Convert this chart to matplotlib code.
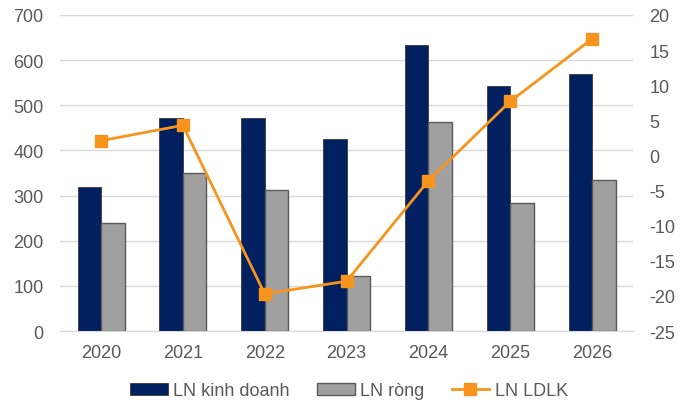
import numpy as np
import matplotlib.pyplot as plt

plt.rcParams['font.family'] = ['Liberation Sans', 'DejaVu Sans']
plt.rcParams['axes.unicode_minus'] = False

years = ["2020", "2021", "2022", "2023", "2024", "2025", "2026"]
ln_kinh_doanh = [319, 471, 471, 425, 633, 543, 569]
ln_rong = [239, 350, 313, 123, 462, 283, 334]
ln_ldlk = [2.1, 4.3, -19.7, -17.9, -3.6, 7.7, 16.6]

navy = "#002060"
grey = "#A0A0A0"
orange = "#F7941D"
txt = "#595959"
fs = 13

fig = plt.figure(figsize=(6.91, 4.10), dpi=100)
ax = fig.add_axes([0.087, 0.19, 0.829, 0.771])
ax2 = ax.twinx()

x = np.arange(len(years))
w = 0.287
ax.bar(x - w / 2, ln_kinh_doanh, w, color=navy, edgecolor="#3a3a3a", linewidth=0.6,
       label="LN kinh doanh", zorder=2)
ax.bar(x + w / 2, ln_rong, w, color=grey, edgecolor="#595959", linewidth=1.0,
       label="LN ròng", zorder=2)
ax2.plot(x, ln_ldlk, color=orange, lw=2, marker="s", ms=8, label="LN LDLK")

ax.set_xlim(-0.5, len(years) - 0.5)
ax.set_ylim(0, 700)
ax.set_yticks(range(0, 701, 100))
ax2.set_ylim(-25, 20)
ax2.set_yticks(range(-25, 21, 5))
ax.set_xticks(x)
ax.set_xticklabels(years)

ax.yaxis.grid(True, color="#D9D9D9", lw=1)
ax.set_axisbelow(True)
for a in (ax, ax2):
    for s in a.spines.values():
        s.set_visible(False)
    a.tick_params(length=0, labelsize=fs, colors=txt)
ax.spines["bottom"].set_visible(True)
ax.spines["bottom"].set_color("#D9D9D9")
ax.tick_params(axis="x", pad=9)
ax.tick_params(axis="y", pad=12)
ax2.tick_params(axis="y", pad=12)

h1, l1 = ax.get_legend_handles_labels()
h2, l2 = ax2.get_legend_handles_labels()
leg = fig.legend(h1 + h2, l1 + l2, loc="center", bbox_to_anchor=(0.505, 0.044), ncol=3,
                 frameon=False, fontsize=fs, handlelength=2.1, handleheight=0.6,
                 columnspacing=1.5, handletextpad=0.3)
for t in leg.get_texts():
    t.set_color(txt)

fig.savefig("out.png", dpi=100)
